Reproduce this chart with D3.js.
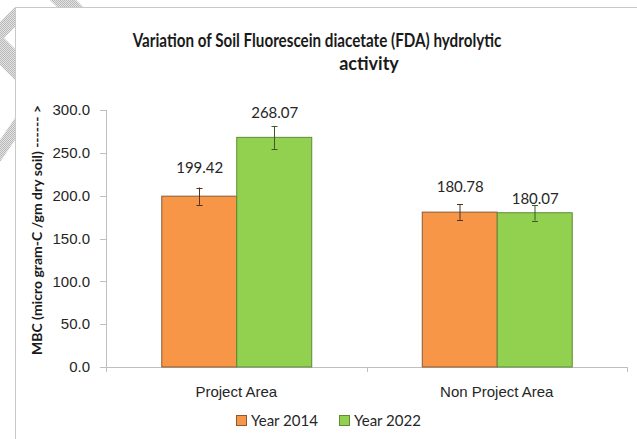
<!DOCTYPE html>
<html lang="en">
  <head>
    <meta charset="UTF-8" />
    <style>
      body {
        margin: 0;
        background: #fff;
      }
      svg {
        font-family: Lato, "Open Sans", sans-serif;
        display: block;
      }
      .axis path,
      .axis line {
        stroke: #bfbfbf;
        shape-rendering: crispEdges;
      }
      .axis text {
        fill: #262626;
        font-size: 15px;
      }
      .ttl {
        font-weight: bold;
        fill: #1a1a1a;
      }
    </style>
    <script src="https://d3js.org/d3.v7.min.js"></script>
    <title>FDA hydrolytic activity</title>
  </head>
  <body>
    <script>
      // data
      var categories = ["Project Area", "Non Project Area"];
      var series = ["Year 2014", "Year 2022"];
      var year2014 = [199.42, 180.78];
      var year2022 = [268.07, 180.07];
      var err2014 = [10.1, 9.0];
      var err2022 = [13.4, 9.1];
      var yTicks = [0, 50, 100, 150, 200, 250, 300];

      // label nudges (px above bar top), as placed in the original
      var labelLift2014 = [29, 26];
      var labelLift2022 = [24.5, 14];

      var colors = ["#f79646", "#92d050"];
      var strokes = ["#8a5a35", "#5f8a3a"];
      var errColors = ["#4a3322", "#3d5a26"];

      var W = 637,
        H = 439;
      var margin = { top: 110, right: 10, bottom: 72, left: 106 };

      var svg = d3
        .select("body")
        .append("svg")
        .attr("width", W)
        .attr("height", H);

      // watermark stripes in the top-left corner
      var defs = svg.append("defs");
      var pat = defs
        .append("pattern")
        .attr("id", "dots")
        .attr("width", 2)
        .attr("height", 2)
        .attr("patternUnits", "userSpaceOnUse");
      pat.append("rect").attr("width", 2).attr("height", 2).attr("fill", "#e4e4e4");
      pat.append("rect").attr("width", 1).attr("height", 1).attr("fill", "#b8b8b8");
      pat.append("rect").attr("x", 1).attr("y", 1).attr("width", 1).attr("height", 1).attr("fill", "#b8b8b8");

      var stripes = [
        "M50,0 L76,0 L88,12 L62,12 Z",
        "M15,7 L15,27 L0,42 L0,22 Z",
        "M0,34 L15,49 L15,80 L0,65 Z",
        "M15,118 L15,140 L0,162 L0,140 Z"
      ];
      svg
        .selectAll("path.stripe")
        .data(stripes)
        .enter()
        .append("path")
        .attr("class", "stripe")
        .attr("d", function (d) {
          return d;
        })
        .attr("fill", "url(#dots)");

      // frame of the pasted chart
      svg
        .append("rect")
        .attr("x", 15.5)
        .attr("y", 7.5)
        .attr("width", W)
        .attr("height", H)
        .attr("fill", "#fff")
        .attr("stroke", "#c9c9c9");

      var width = W - margin.left - margin.right,
        height = H - margin.top - margin.bottom;

      var g = svg
        .append("g")
        .attr("transform", "translate(" + margin.left + "," + margin.top + ")");

      var x0 = d3.scaleBand().domain(categories).range([0, width]).padding(0);
      var x1 = d3
        .scaleBand()
        .domain(series)
        .range([0, x0.bandwidth()])
        .paddingInner(0)
        .paddingOuter(0.737);
      var y = d3.scaleLinear().domain([0, 300]).range([height, 0]);

      // y axis
      var yAxis = g
        .append("g")
        .attr("class", "axis")
        .call(
          d3
            .axisLeft(y)
            .tickValues(yTicks)
            .tickSize(6)
            .tickPadding(10)
            .tickFormat(d3.format(".1f"))
        );
      yAxis.select(".domain").attr("d", "M0.5,0V" + (height + 5));

      // x axis with ticks on band edges
      var xAxis = g
        .append("g")
        .attr("class", "axis")
        .attr("transform", "translate(0," + height + ")")
        .call(d3.axisBottom(x0).tickSize(0).tickPadding(19));
      xAxis.select(".domain").attr("d", "M0," + 0.5 + "H" + width);
      xAxis
        .selectAll("line.edge")
        .data(d3.range(categories.length + 1))
        .enter()
        .append("line")
        .attr("class", "edge")
        .attr("x1", function (i) {
          return Math.round(i * x0.step()) + 0.5;
        })
        .attr("x2", function (i) {
          return Math.round(i * x0.step()) + 0.5;
        })
        .attr("y1", 0)
        .attr("y2", 5);

      var rows = categories.map(function (c, i) {
        return {
          cat: c,
          vals: [
            { s: 0, v: year2014[i], e: err2014[i], lift: labelLift2014[i] },
            { s: 1, v: year2022[i], e: err2022[i], lift: labelLift2022[i] }
          ]
        };
      });

      var groups = g
        .selectAll("g.grp")
        .data(rows)
        .enter()
        .append("g")
        .attr("class", "grp")
        .attr("transform", function (d) {
          return "translate(" + x0(d.cat) + ",0)";
        });

      var bars = groups
        .selectAll("g.bar")
        .data(function (d) {
          return d.vals;
        })
        .enter()
        .append("g")
        .attr("class", "bar");

      bars
        .append("rect")
        .attr("x", function (d) {
          return x1(series[d.s]) + 0.5;
        })
        .attr("y", function (d) {
          return y(d.v);
        })
        .attr("width", x1.bandwidth())
        .attr("height", function (d) {
          return height - y(d.v);
        })
        .attr("fill", function (d) {
          return colors[d.s];
        })
        .attr("stroke", function (d) {
          return strokes[d.s];
        })
        .attr("stroke-width", 1);

      // error bars
      var cx = function (d) {
        return Math.round(x1(series[d.s]) + x1.bandwidth() / 2) + 0.5;
      };
      bars
        .append("line")
        .attr("x1", cx)
        .attr("x2", cx)
        .attr("y1", function (d) {
          return y(d.v + d.e);
        })
        .attr("y2", function (d) {
          return y(d.v - d.e);
        })
        .attr("stroke", function (d) {
          return errColors[d.s];
        });
      [1, -1].forEach(function (sgn) {
        bars
          .append("line")
          .attr("x1", function (d) {
            return cx(d) - 3;
          })
          .attr("x2", function (d) {
            return cx(d) + 3;
          })
          .attr("y1", function (d) {
            return Math.round(y(d.v + sgn * d.e)) + 0.5;
          })
          .attr("y2", function (d) {
            return Math.round(y(d.v + sgn * d.e)) + 0.5;
          })
          .attr("stroke", function (d) {
            return errColors[d.s];
          });
      });

      // value labels
      bars
        .append("text")
        .attr("x", function (d) {
          return x1(series[d.s]) + x1.bandwidth() / 2 + 1;
        })
        .attr("y", function (d) {
          return y(d.v) - d.lift;
        })
        .attr("dy", "0.36em")
        .attr("text-anchor", "middle")
        .style("font-size", "15px")
        .attr("fill", "#262626")
        .text(function (d) {
          return d.v.toFixed(2);
        });

      // narrow text (the original font is Calibri) by squeezing it horizontally
      function squeezed(txt, size, fitWidth, cxp, cyp, rot) {
        var t = svg
          .append("text")
          .attr("class", "ttl")
          .attr("text-anchor", "middle")
          .style("font-size", size + "px")
          .text(txt);
        var k = Math.min(1, fitWidth / t.node().getComputedTextLength());
        t.attr(
          "transform",
          "translate(" + cxp + "," + cyp + ")" +
            (rot ? " rotate(" + rot + ")" : "") +
            " scale(" + k + ",1)"
        );
        return t;
      }

      // title
      squeezed("Variation of Soil Fluorescein diacetate (FDA) hydrolytic", 18, 369, 317, 47);
      squeezed("activity", 18, 62, 369, 69.5);

      // y axis title
      squeezed("MBC (micro gram-C  /gm dry soil) ------ >", 14, 264, 42, 230, -90);

      // legend
      var legend = svg
        .selectAll("g.leg")
        .data(series)
        .enter()
        .append("g")
        .attr("class", "leg")
        .attr("transform", function (d, i) {
          return "translate(" + (236 + i * 103) + ",415)";
        });
      legend
        .append("rect")
        .attr("width", 10)
        .attr("height", 10)
        .attr("x", 0.5)
        .attr("y", 0.5)
        .attr("fill", function (d, i) {
          return colors[i];
        })
        .attr("stroke", function (d, i) {
          return strokes[i];
        });
      legend
        .append("text")
        .attr("x", 15)
        .attr("y", 11)
        .style("font-size", "15px")
        .attr("fill", "#262626")
        .text(function (d) {
          return d;
        });
    </script>
  </body>
</html>
